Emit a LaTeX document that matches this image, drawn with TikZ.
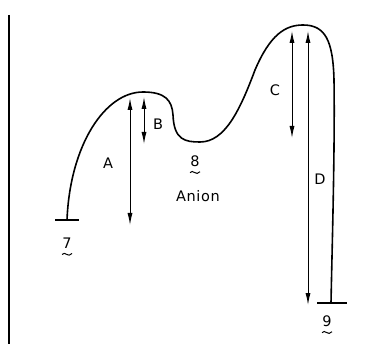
\documentclass[tikz,border=0pt]{standalone}
\usepackage{fontspec}
\setmainfont{DejaVu Sans}[LetterSpace=4]
\usetikzlibrary{arrows.meta}

\begin{document}
\begin{tikzpicture}[x=1pt,y=-1pt,>={Latex[length=12pt,width=5pt]},every node/.style={font=\fontsize{14.5}{17}\selectfont,inner sep=1pt},
  lvl/.style={<->,line width=1pt,shorten <=1pt,shorten >=1pt},
  tld/.style={line width=1pt}]
\useasboundingbox (0,0) rectangle (385,344);
\draw[line width=1.1pt] (9,15)--(9,344);
% energy curve
\coordinate (s7) at (67,220);\coordinate (t1) at (143,92);\coordinate (v8) at (200,142);\coordinate (t2) at (303,25);\coordinate (s9) at (331,303);
\draw[line width=1.6pt] (s7) .. controls (70,145) and (105,92) .. (t1) .. controls (165,92) and (172,100) .. (173,115)
  .. controls (174,140) and (185,142) .. (v8) .. controls (225,142) and (240,110) .. (255,70)
  .. controls (270,35) and (285,25) .. (t2) .. controls (325,25) and (333,40) .. (334,80)
  .. controls (335,150) and (332,250) .. (s9);
\draw[line width=1.6pt] (55,220)--(79,220);\draw[line width=1.6pt] (317,303)--(347,303);
% gaps
\coordinate (a1) at (130,97);\coordinate (a2) at (130,226);\coordinate (b1) at (144,96);\coordinate (b2) at (144,145);
\coordinate (c1) at (292,30);\coordinate (c2) at (292,139);\coordinate (d1) at (308,30);\coordinate (d2) at (308,306);
\draw[lvl] (a1)--(a2);\draw[lvl] (b1)--(b2);\draw[lvl] (c1)--(c2);\draw[lvl] (d1)--(d2);
\node (la) at (108,163){A};\node (lb) at (158,124){B};\node (lc) at (275,90){C};\node (ld) at (320,179){D};
\node (n7) at (67,243){7};\node (n8) at (195,161){8};\node (an) at (198,196){Anion};\node (n9) at (327,321){9};
% tildes under the numbers
\foreach \n in {n7,n8,n9}
  \draw[tld,shift={(\n.south)}] (-5,5) .. controls (-2,1) and (1,9) .. (5,4);
\end{tikzpicture}
\end{document}
